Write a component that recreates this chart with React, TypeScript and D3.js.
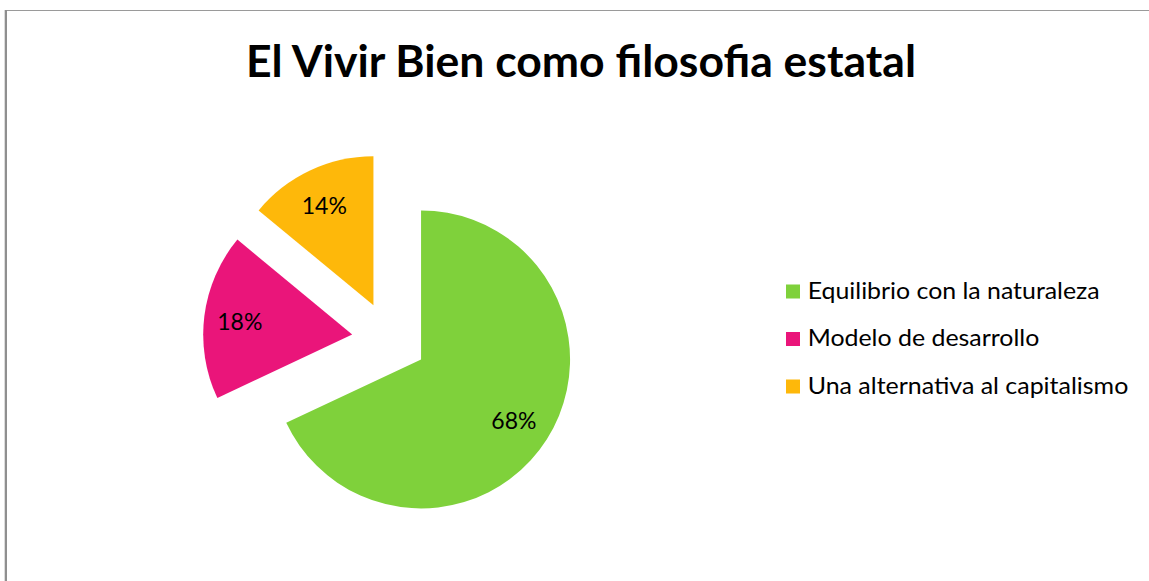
import React from "react";
import * as d3 from "d3";

const categories = ["Equilibrio con la naturaleza", "Modelo de desarrollo", "Una alternativa al capitalismo"];
const values = [68, 18, 14];
const labels = ["68%", "18%", "14%"];
const colors = ["#7FD13B", "#EA157A", "#FEB80A"];
const title = "El Vivir Bien como filosofia estatal";

const W = 1149;
const H = 581;
const FONT = "Lato, 'Open Sans', sans-serif";

export default function App() {
  const cx = 389.4;
  const cy = 339.3;
  const r = 149;
  const explode = 37.5;
  const pie = d3.pie<number>().sort(null).value((d) => d);
  const arcs = pie(values);
  const arc = d3.arc<d3.PieArcDatum<number>>().innerRadius(0).outerRadius(r);

  const legendX = 786;
  const legendY0 = 284.5;
  const legendStep = 47.5;
  const legendWidths = [292, 231.6, 320.6];

  return (
    <svg
      width={W}
      height={H}
      style={{ position: "absolute", left: 0, top: 0, background: "#fff" }}
      fontFamily={FONT}
    >
      <rect x={0} y={0} width={W} height={H} fill="#fff" />
      <line x1={4} x2={W} y1={10.5} y2={10.5} stroke="#9a9a9a" strokeWidth={1} />
      <line x1={6} x2={6} y1={10} y2={H} stroke="#8f8f8f" strokeWidth={2} />
      <line x1={4.5} x2={4.5} y1={10} y2={H} stroke="#dcdcdc" strokeWidth={1} />

      <text
        x={581}
        y={76.5}
        textAnchor="middle"
        fontSize={44}
        fontWeight="bold"
        textLength={670}
        lengthAdjust="spacingAndGlyphs"
        fill="#000"
      >
        {title}
      </text>

      {arcs.map((a, i) => {
        const mid = (a.startAngle + a.endAngle) / 2;
        const ox = cx + explode * Math.sin(mid);
        const oy = cy - explode * Math.cos(mid);
        const lr = 0.75 * r;
        const lx = ox + lr * Math.sin(mid);
        const ly = oy - lr * Math.cos(mid);
        return (
          <g key={i}>
            <path d={arc(a) || ""} transform={`translate(${ox},${oy})`} fill={colors[i]} />
            <text x={lx - 1.5} y={ly + 9.5} textAnchor="middle" fontSize={23} fill="#000">
              {labels[i]}
            </text>
          </g>
        );
      })}

      {categories.map((c, i) => (
        <g key={c}>
          <rect x={legendX} y={legendY0 + i * legendStep} width={14} height={14} fill={colors[i]} />
          <text
            x={807.7}
            y={legendY0 + 14 + i * legendStep}
            fontSize={23}
            fill="#000"
            textLength={legendWidths[i]}
            lengthAdjust="spacingAndGlyphs"
          >
            {c}
          </text>
        </g>
      ))}
    </svg>
  );
}
